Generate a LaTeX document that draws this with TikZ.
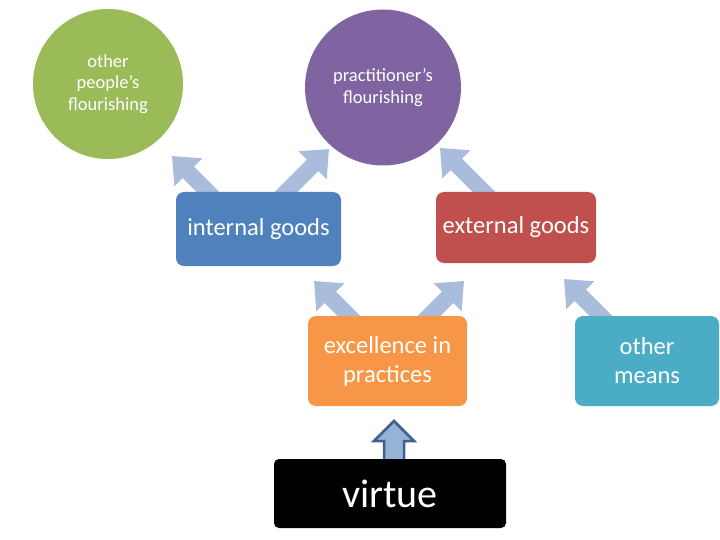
\documentclass[tikz,border=0pt]{standalone}
\usepackage{fontspec}
\setmainfont{Carlito}
\usetikzlibrary{arrows.meta,calc}
\definecolor{cgreen}{HTML}{9BBB59}
\definecolor{cpurple}{HTML}{8064A2}
\definecolor{cblue}{HTML}{4F81BD}
\definecolor{cred}{HTML}{C0504D}
\definecolor{corange}{HTML}{F79646}
\definecolor{cteal}{HTML}{4BACC6}
\definecolor{carrow}{HTML}{A9BCDB}
\definecolor{upfill}{HTML}{95B3D7}
\definecolor{upline}{HTML}{3F5F8C}
\begin{document}
\begin{tikzpicture}[x=1pt,y=-1pt,
  circ/.style={circle,inner sep=0pt,text=white,align=center,font=\fontsize{18.5}{21.5}\selectfont},
  boxn/.style={rounded corners=8pt,inner sep=0pt,text=white,align=center,font=\fontsize{24.5}{29}\selectfont},
  blockarrow/.style={draw=carrow,line width=16pt,-{Triangle[length=23pt,width=38pt,fill=carrow]}}
]
\useasboundingbox (0,0) rectangle (720,540);
% arrow tips and tails
\coordinate (t1) at (172,156); \coordinate (s1) at (232,216);
\coordinate (t2) at (329,149); \coordinate (s2) at (269,209);
\coordinate (t3) at (314,281); \coordinate (s3) at (364,331);
\coordinate (t4) at (464,281); \coordinate (s4) at (414,331);
\coordinate (t5) at (440,148); \coordinate (s5) at (500,208);
\coordinate (t6) at (564,279); \coordinate (s6) at (619,334);
\foreach \i in {1,...,6}{\draw[blockarrow] (s\i) -- (t\i);}
% circles
\node[circ,fill=cgreen,minimum size=150pt] (op) at (108,84) {other\\people’s\\flourishing};
\node[circ,fill=cpurple,minimum size=156pt] (pf) at (383,87.5) {practitioner’s\\flourishing};
% up arrow
\filldraw[fill=upfill,draw=upline,line width=2.5pt,line join=miter]
  (394,421) -- (414,441) -- (404,441) -- (404,465) -- (384,465) -- (384,441) -- (374,441) -- cycle;
% boxes
\node[boxn,fill=cblue,minimum width=165pt,minimum height=74pt] (ig) at (258.5,229) {internal goods};
\node[boxn,fill=cred,minimum width=160pt,minimum height=71pt] (eg) at (516,227.5) {external goods};
\node[boxn,fill=corange,minimum width=159pt,minimum height=90pt] (ex) at (387.5,361) {excellence in\\practices};
\node[boxn,fill=cteal,minimum width=144pt,minimum height=90pt] (om) at (647,361) {other\\means};
\node[rounded corners=5pt,fill=black,text=white,inner sep=0pt,minimum width=232pt,minimum height=69pt,font=\fontsize{40}{44}\selectfont] (vi) at (390,493.5) {virtue};
\end{tikzpicture}
\end{document}
